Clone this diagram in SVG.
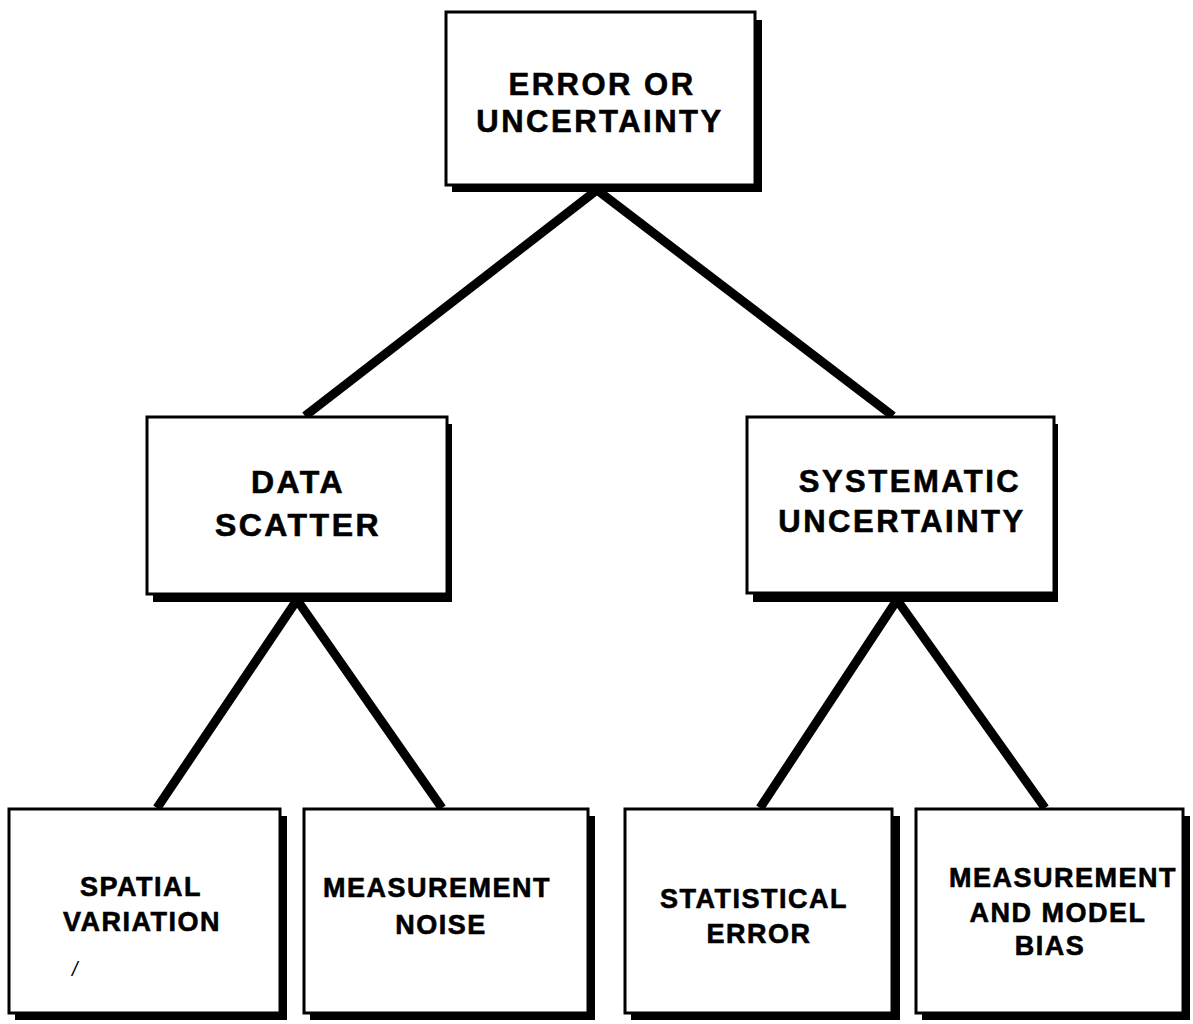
<svg xmlns="http://www.w3.org/2000/svg" width="1193" height="1024" viewBox="0 0 1193 1024">
<style>
.sh{fill:#000}
.bx{fill:#fff;stroke:#000;stroke-width:3}
.t{font-family:"Liberation Sans",Arial,sans-serif;font-weight:bold;fill:#000;stroke:#000;stroke-width:0.6;text-anchor:middle}
.l{font-size:31px;letter-spacing:2.5px}
.m{font-size:32px;letter-spacing:2.5px}
.s{font-size:27px;letter-spacing:1.5px}
.c{stroke:#000;stroke-width:9;fill:none;stroke-linecap:butt}
</style>
<rect width="1193" height="1024" fill="#fff"/>
<g id="connectors">
<polyline class="c" points="305,416 597,190 893,416"/>
<polyline class="c" points="157,808 297,600 442,808"/>
<polyline class="c" points="760,808 897,600 1045,808"/>
</g>
<g id="n-error">
<rect class="sh" x="452" y="20" width="310" height="172"/>
<rect class="bx" x="446" y="12" width="309" height="173"/>
<text class="t l" x="602" y="95">ERROR OR</text>
<text class="t l" x="600" y="132">UNCERTAINTY</text>
</g>
<g id="n-scatter">
<rect class="sh" x="153" y="424" width="299" height="178"/>
<rect class="bx" x="147" y="417" width="300" height="177"/>
<text class="t m" x="298" y="493">DATA</text>
<text class="t m" x="298" y="536">SCATTER</text>
</g>
<g id="n-systematic">
<rect class="sh" x="753" y="424" width="305" height="178"/>
<rect class="bx" x="747" y="417" width="307" height="176"/>
<text class="t l" x="910" y="492">SYSTEMATIC</text>
<text class="t l" x="902" y="532">UNCERTAINTY</text>
</g>
<g id="n-spatial">
<rect class="sh" x="15" y="816" width="272" height="204"/>
<rect class="bx" x="9" y="809" width="271" height="204"/>
<text class="t s" x="141" y="896">SPATIAL</text>
<text class="t s" x="142" y="931">VARIATION</text>
<text x="72" y="976" style="font-family:'Liberation Sans',Arial,sans-serif;font-size:20px;font-style:italic">/</text>
</g>
<g id="n-noise">
<rect class="sh" x="310" y="816" width="285" height="204"/>
<rect class="bx" x="304" y="809" width="284" height="204"/>
<text class="t s" x="437" y="897">MEASUREMENT</text>
<text class="t s" x="441" y="934">NOISE</text>
</g>
<g id="n-statistical">
<rect class="sh" x="631" y="816" width="269" height="204"/>
<rect class="bx" x="625" y="809" width="267" height="204"/>
<text class="t s" x="754" y="908">STATISTICAL</text>
<text class="t s" x="759" y="943">ERROR</text>
</g>
<g id="n-bias">
<rect class="sh" x="922" y="816" width="268" height="204"/>
<rect class="bx" x="916" y="809" width="267" height="204"/>
<text class="t s" x="1063" y="887">MEASUREMENT</text>
<text class="t s" x="1058" y="922">AND MODEL</text>
<text class="t s" x="1050" y="955">BIAS</text>
</g>
</svg>
